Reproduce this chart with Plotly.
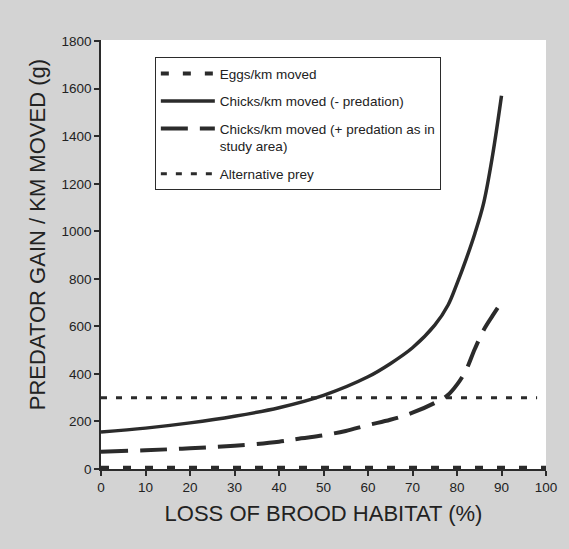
import plotly.graph_objects as go

# ---- data ----
loss_eggs = [0, 10, 20, 30, 40, 50, 60, 70, 80, 90, 100]
eggs_per_km = [5, 5, 5, 5, 5, 5, 5, 5, 5, 5, 5]

loss_chicks = [0, 10, 20, 30, 40, 50, 60, 65, 70, 75, 78, 80, 82, 84, 86, 88, 90]
chicks_no_pred = [156, 172, 194, 222, 258, 310, 388, 443, 510, 605, 690, 780, 880, 990, 1120, 1320, 1570]

loss_chicks_pred = [0, 10, 20, 30, 40, 45, 50, 55, 60, 65, 70, 75, 78, 80, 82, 84, 86, 88, 89.5]
chicks_pred = [73, 79, 87, 98, 115, 129, 142, 160, 185, 207, 237, 278, 312, 355, 415, 505, 585, 645, 688]

loss_alt = [0, 98]
alt_prey = [300, 300]

x_ticks = [0, 10, 20, 30, 40, 50, 60, 70, 80, 90, 100]
y_ticks = [0, 200, 400, 600, 800, 1000, 1200, 1400, 1600, 1800]

FONT = "Arial, Liberation Sans, Helvetica, sans-serif"
INK = "#2b2b2b"

fig = go.Figure()
fig.add_trace(go.Scatter(x=loss_eggs, y=eggs_per_km, mode="lines", name="Eggs/km moved",
                         line=dict(color=INK, width=4, dash="8px,14px"), legendgroup="a"))
fig.add_trace(go.Scatter(x=loss_chicks, y=chicks_no_pred, mode="lines", name="Chicks/km moved (- predation)",
                         line=dict(color=INK, width=3.5, shape="spline"), legendgroup="b"))
fig.add_trace(go.Scatter(x=loss_chicks_pred, y=chicks_pred, mode="lines",
                         name="Chicks/km moved (+ predation as in<br>study area)",
                         line=dict(color=INK, width=4, dash="27px,12px", shape="spline"), legendgroup="c"))
fig.add_trace(go.Scatter(x=loss_alt, y=alt_prey, mode="lines", name="Alternative prey",
                         line=dict(color=INK, width=3, dash="6px,9px"), legendgroup="d"))

axis_common = dict(showgrid=False, zeroline=False, showline=True, linecolor=INK, linewidth=1.5,
                   ticks="outside", ticklen=5, tickwidth=1.5, tickcolor=INK, automargin=False,
                   tickfont=dict(family=FONT, size=13.5, color="#222"))

fig.update_layout(
    width=569, height=549,
    margin=dict(l=101, r=23, t=40, b=80),
    paper_bgcolor="#d3d3d3",
    plot_bgcolor="white",
    font=dict(family=FONT, color="#222"),
    xaxis=dict(range=[0, 100], tickvals=x_ticks, **axis_common,
               title=dict(text="LOSS OF BROOD HABITAT (%)", font=dict(size=22, family=FONT, color="#222"), standoff=12)),
    yaxis=dict(range=[0, 1805], tickvals=y_ticks, **axis_common),
    xaxis2=dict(range=[0, 100], tickvals=x_ticks, overlaying="x", side="bottom", showgrid=False, zeroline=False,
                showline=False, ticks="inside", ticklen=5, tickwidth=1.5, tickcolor=INK, showticklabels=False,
                anchor="y", automargin=False),
    yaxis2=dict(range=[0, 1805], tickvals=y_ticks, overlaying="y", side="left", showgrid=False, zeroline=False,
                showline=False, ticks="inside", ticklen=5, tickwidth=1.5, tickcolor=INK, showticklabels=False,
                anchor="x", automargin=False),
    legend=dict(x=0.121, y=0.96, xanchor="left", yanchor="top", bgcolor="white",
                bordercolor=INK, borderwidth=1, font=dict(family=FONT, size=13.5, color="#222"),
                tracegroupgap=7, valign="top", itemwidth=54, entrywidth=308),
    annotations=[dict(text="PREDATOR GAIN / KM MOVED (g)", textangle=-90, xref="paper", yref="paper",
                      x=-0.1438, y=0.545, xanchor="center", yanchor="middle", showarrow=False,
                      font=dict(size=22, family=FONT, color="#222"))],
    showlegend=True,
)

fig.write_html("out.html", config={"displayModeBar": False},
               post_script="document.body.style.margin='0';")
